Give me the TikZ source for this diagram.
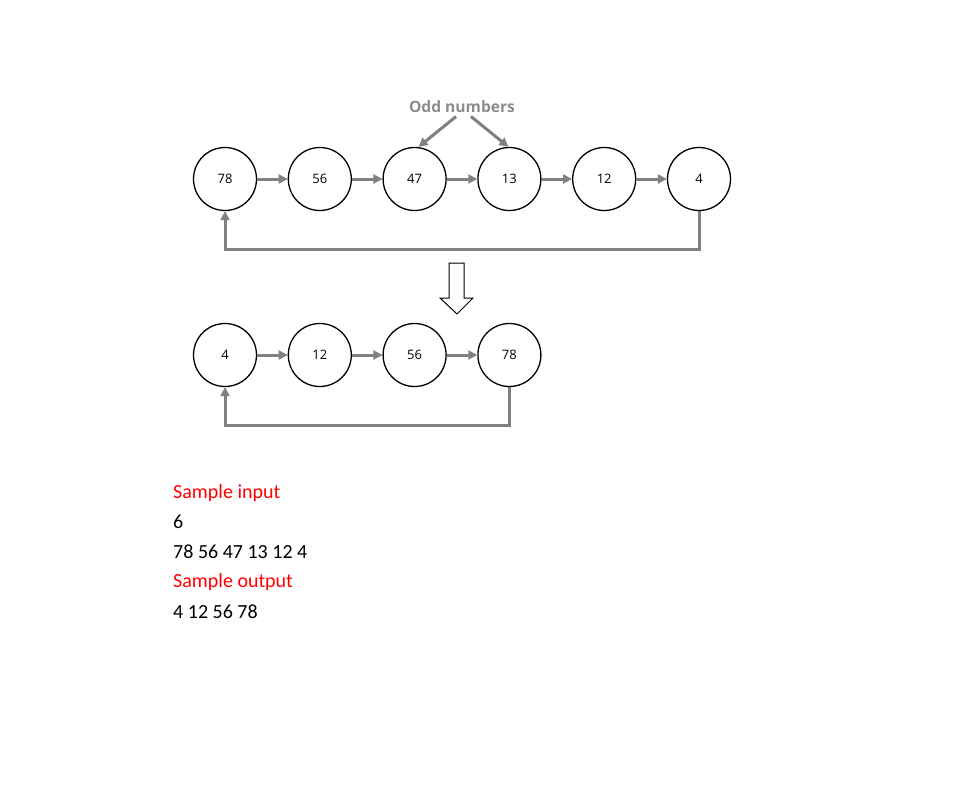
\documentclass[tikz,border=0pt]{standalone}
\usepackage{fontspec}
\setmainfont{Carlito}
\newfontfamily\numfont{Open Sans}
\newfontfamily\oddfont{Open Sans}
\usetikzlibrary{arrows.meta,positioning}
\definecolor{linkgray}{RGB}{128,128,128}
\definecolor{labgray}{RGB}{140,140,140}
\begin{document}
\begin{tikzpicture}[
  x=1pt,y=-1pt,
  node distance=30.5pt,
  elem/.style={draw,circle,line width=1.3pt,minimum size=63pt,inner sep=0pt,
               font=\numfont\fontsize{13}{15}\selectfont},
  ln/.style={linkgray,line width=3pt,-{Triangle[length=9pt,width=9pt]}},
  txt/.style={anchor=west,inner sep=0pt,font=\fontsize{20}{24}\selectfont}]
\useasboundingbox (0,0) rectangle (966,806);
% list before
\node[elem] (a1) at (225,179) {78};
\node[elem,right=of a1] (a2) {56};
\node[elem,right=of a2] (a3) {47};
\node[elem,right=of a3] (a4) {13};
\node[elem,right=of a4] (a5) {12};
\node[elem,right=of a5] (a6) {4};
\foreach \i/\j in {1/2,2/3,3/4,4/5,5/6}
  \draw[ln] (a\i) -- (a\j);
\draw[ln] (a6.south) -- ++(0,38) -| (a1.south);
\node[labgray,font=\oddfont\bfseries\fontsize{15.6}{18}\selectfont] (odd) at (462,107) {Odd numbers};
\draw[ln] ([xshift=-6pt]odd.south) -- ([xshift=4pt]a3.north);
\draw[ln] ([xshift=9pt]odd.south) -- ([xshift=-1pt]a4.north);
% hollow arrow
\coordinate (tip) at (457,314);
\draw[line width=1pt] (tip) -- ++(-17,-16) -- ++(9,0) -- ++(0,-35) -- ++(15,0)
  -- ++(0,35) -- ++(9,0) -- cycle;
% list after
\node[elem] (b1) at (225,355) {4};
\node[elem,right=of b1] (b2) {12};
\node[elem,right=of b2] (b3) {56};
\node[elem,right=of b3] (b4) {78};
\foreach \i/\j in {1/2,2/3,3/4}
  \draw[ln] (b\i) -- (b\j);
\draw[ln] (b4.south) -- ++(0,38) -| (b1.south);
% sample
\node[txt,red] (si) at (173,493) {Sample input};
\node[txt] (n) at (173,522) {6};
\node[txt] (in) at (173,552) {78 56 47 13 12 4};
\node[txt,red] (so) at (173,582) {Sample output};
\node[txt] (out) at (173,612) {4 12 56 78};
\end{tikzpicture}
\end{document}
